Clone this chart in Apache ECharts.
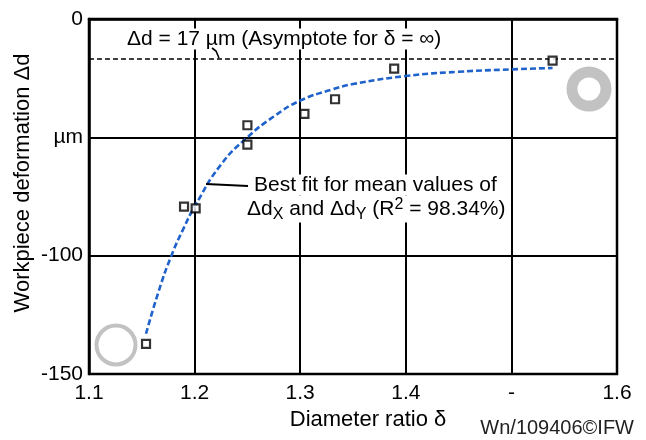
<!DOCTYPE html>
<html>
<head>
<meta charset="utf-8">
<script src="https://cdn.jsdelivr.net/npm/echarts@6/dist/echarts.min.js"></script>
<style>html,body{margin:0;padding:0;background:#fff}#c{width:646px;height:440px}</style>
</head>
<body>
<div id="c"></div>
<script>
// ---- data ----
const xTickValues = [1.1, 1.2, 1.3, 1.4, 1.5, 1.6];
const xTickLabels = ['1.1', '1.2', '1.3', '1.4', '-', '1.6'];
const yTickValues = [0, -50, -100, -150];
const yTickLabels = ['0', 'µm', '-100', '-150'];

// measured mean values (squares)
const measuredX = [1.154, 1.190, 1.201, 1.250, 1.250, 1.304, 1.333, 1.389, 1.539];
const measuredY = [-137.3, -79.3, -80.0, -44.9, -53.1, -40.1, -33.9, -21.0, -17.6];

// best-fit curve
const fitX = [1.154, 1.166, 1.178, 1.189, 1.200, 1.225, 1.250, 1.275, 1.300, 1.330, 1.350, 1.400, 1.450, 1.500, 1.539];
const fitY = [-133.0, -115.0, -100.0, -89.0, -79.3, -61.5, -50.0, -41.2, -34.5, -29.8, -27.5, -24.1, -22.3, -21.3, -20.7];

// asymptote
const asymptoteY = [-17];

const FONT = "'Liberation Sans', Arial, Helvetica, sans-serif";

const chart = echarts.init(document.getElementById('c'), null, {renderer: 'canvas'});

function xLabel(v) {
  const i = xTickValues.findIndex(t => Math.abs(t - v) < 1e-6);
  return i >= 0 ? xTickLabels[i] : '';
}
function yLabel(v) {
  const i = yTickValues.findIndex(t => Math.abs(t - v) < 1e-6);
  return i >= 0 ? yTickLabels[i] : '';
}

const option = {
  animation: false,
  backgroundColor: '#fff',
  grid: {
    left: 89, right: 29, top: 19, bottom: 66,
    show: true, borderColor: '#000', borderWidth: 2.5, backgroundColor: 'transparent'
  },
  xAxis: {
    type: 'value', min: 1.1, max: 1.6, interval: 0.1,
    axisLine: {show: true, lineStyle: {color: '#000', width: 2.5}},
    axisTick: {show: false},
    splitLine: {show: true, lineStyle: {color: '#000', width: 2}},
    axisLabel: {
      color: '#000', fontSize: 21, fontFamily: FONT, margin: 9,
      formatter: xLabel
    }
  },
  yAxis: {
    type: 'value', min: -150, max: 0, interval: 50,
    axisLine: {show: true, lineStyle: {color: '#000', width: 2.5}},
    axisTick: {show: false},
    splitLine: {show: true, lineStyle: {color: '#000', width: 2}},
    axisLabel: {
      color: '#000', fontSize: 21, fontFamily: FONT, margin: 6,
      formatter: yLabel
    }
  },
  series: [
    {
      name: 'Asymptote',
      type: 'line',
      data: [],
      markLine: {
        silent: true, symbol: ['none', 'none'],
        label: {show: false},
        lineStyle: {color: '#000', width: 1.6, type: [5, 3]},
        data: asymptoteY.map(v => ({yAxis: v}))
      },
      z: 3
    },
    {
      name: 'Best fit',
      type: 'line',
      smooth: 0.5,
      showSymbol: false,
      data: fitX.map((x, i) => [x, fitY[i]]),
      lineStyle: {color: '#1f62cc', width: 2.6, type: [6, 3]},
      z: 4
    },
    {
      name: 'Mean values',
      type: 'scatter',
      symbol: 'rect',
      symbolSize: 8,
      data: measuredX.map((x, i) => [x, measuredY[i]]),
      itemStyle: {color: '#fff', borderColor: '#000', borderWidth: 2.2},
      z: 5
    }
  ],
  graphic: [
    // axis names
    {type: 'text', z: 100, x: 23, y: 183, rotation: Math.PI / 2,
      style: {text: 'Workpiece deformation Δd', font: '22px ' + FONT, fill: '#000', align: 'center', verticalAlign: 'middle'}},
    {type: 'text', z: 100, x: 368, y: 420,
      style: {text: 'Diameter ratio δ', font: '22px ' + FONT, fill: '#000', align: 'center', verticalAlign: 'middle'}},
    {type: 'text', z: 100, x: 634, y: 428,
      style: {text: 'Wn/109406©IFW', font: '20px ' + FONT, fill: '#222', align: 'right', verticalAlign: 'middle'}},
    // asymptote annotation
    {type: 'text', z: 100, x: 126, y: 39,
      style: {text: 'Δd = 17 µm (Asymptote for δ = ∞)', font: '21px ' + FONT, fill: '#000', align: 'left', verticalAlign: 'middle',
        backgroundColor: '#fff', padding: [0, 1, 0, 1]}},
    {type: 'polyline', z: 100,
      shape: {points: [[212, 48], [216, 51], [219, 58]]},
      style: {stroke: '#000', lineWidth: 1.6, fill: null}},
    // best fit annotation
    {type: 'line', z: 100, shape: {x1: 206, y1: 184, x2: 248, y2: 186},
      style: {stroke: '#000', lineWidth: 2}},
    {type: 'text', z: 100, x: 253, y: 185,
      style: {text: 'Best fit for mean values of', font: '21px ' + FONT, fill: '#000', align: 'left', verticalAlign: 'middle',
        backgroundColor: '#fff', padding: [0, 1, 0, 1]}},
    {type: 'text', z: 100, x: 246, y: 209,
      style: {
        text: '{n|Δd}{s|X}{n| and Δd}{s|Y}{n| (R}{p|2}{n| = 98.34%)}',
        align: 'left', verticalAlign: 'middle',
        backgroundColor: '#fff', padding: [0, 1, 0, 1],
        rich: {
          n: {fontSize: 21, fontFamily: FONT, fill: '#000', color: '#000'},
          s: {fontSize: 16, fontFamily: FONT, fill: '#000', color: '#000', padding: [11, 0, 0, 0]},
          p: {fontSize: 16, fontFamily: FONT, fill: '#000', color: '#000', padding: [0, 0, 9, 0]}
        }
      }},
    // decorative rings
    {type: 'circle', z: 100, shape: {cx: 116, cy: 345, r: 19.5},
      style: {stroke: '#c2c2c2', lineWidth: 4, fill: null}},
    {type: 'circle', z: 100, shape: {cx: 589, cy: 89, r: 17},
      style: {stroke: '#c2c2c2', lineWidth: 11, fill: null}}
  ]
};
chart.setOption(option);
</script>
</body>
</html>
